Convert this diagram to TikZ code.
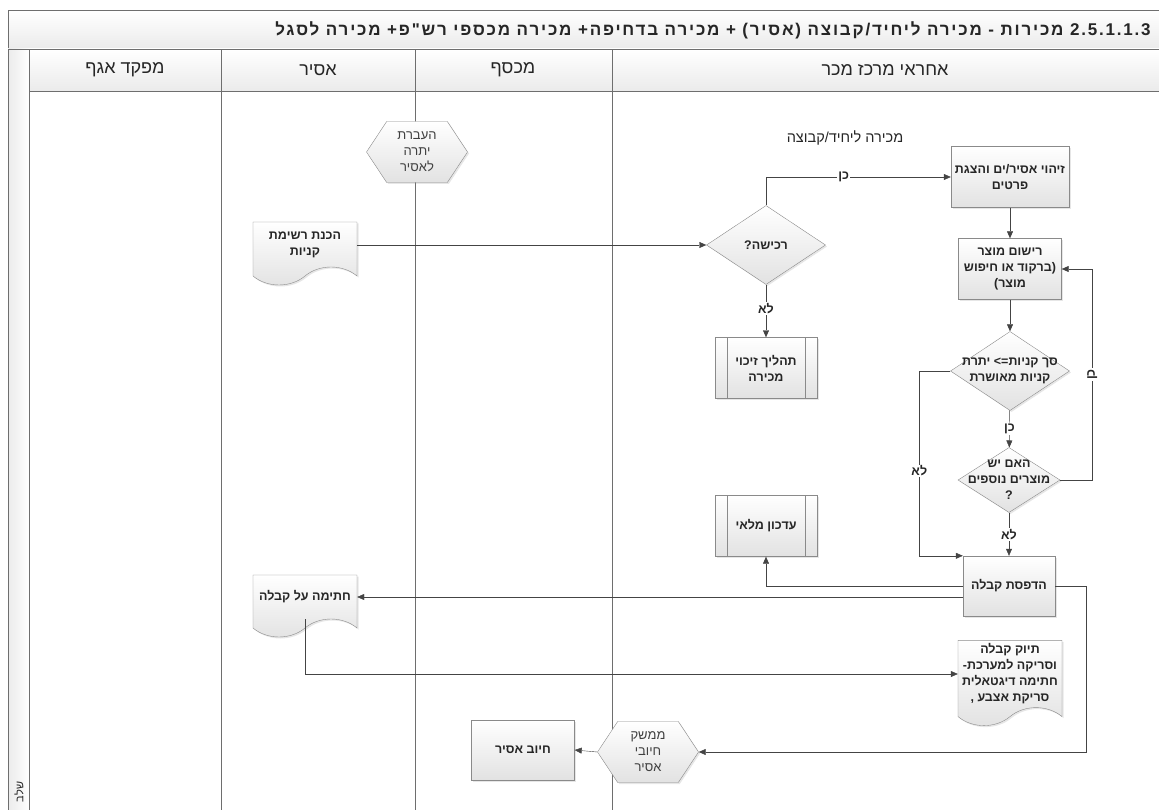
\documentclass[tikz,border=0pt]{standalone}
\usepackage{fontspec}
\setmainfont{Liberation Sans}
\newfontfamily\hebfont[Script=Hebrew]{Liberation Sans}
\newfontfamily\titlefont[Script=Hebrew,LetterSpace=10.5]{Liberation Sans}
\TeXXeTstate=1
\usetikzlibrary{shapes.geometric,shapes.symbols,arrows.meta,shadows}
\definecolor{framegray}{HTML}{6E6E6E}
\definecolor{nodegray}{HTML}{8A8A8A}
\definecolor{linegray}{HTML}{444444}
\definecolor{shadegray}{HTML}{E2E2E2}
\newcommand{\heb}[1]{\beginR#1\endR}

\begin{document}
\begin{tikzpicture}
  [x=1pt,y=-1pt,
   every node/.style={font=\hebfont\bfseries\fontsize{12.5}{16}\selectfont,align=center,text=black!85},
   shaded/.style={draw=nodegray,top color=white,bottom color=shadegray,
     drop shadow={opacity=.2,shadow xshift=1.5pt,shadow yshift=-1.5pt}},
   box/.style={shaded,rectangle,minimum width=#1,minimum height=61pt,inner sep=1pt},
   predef/.style={box=102pt,path picture={
     \draw[nodegray] ([xshift=12pt]path picture bounding box.north west) -- ([xshift=12pt]path picture bounding box.south west);
     \draw[nodegray] ([xshift=-12pt]path picture bounding box.north east) -- ([xshift=-12pt]path picture bounding box.south east);}},
   decision/.style={shaded,diamond,inner sep=0pt,minimum width=#1,minimum height=79pt},
   hexa/.style={shaded,signal,signal to=east and west,signal pointer angle=113,
     minimum width=101pt,minimum height=61pt,inner sep=0pt,
     font=\hebfont\fontsize{13}{16}\selectfont,text=black!75},
   docu/.style={shaded,tape,tape bend top=none,tape bend bottom=in and out,
     tape bend height=18pt,minimum width=104pt,minimum height=#1},
   flow/.style={draw=linegray,-{Triangle[length=7pt,width=6pt]}},
   lbl/.style={fill=white,inner sep=1pt,font=\hebfont\bfseries\fontsize{12.5}{15}\selectfont},
   lane/.style={draw=framegray,top color=white,bottom color=shadegray!70},
   head/.style={font=\hebfont\fontsize{18}{20}\selectfont}]
  \useasboundingbox (0,0) rectangle (1159,810);

  \draw[lane] (8,10) rectangle (1175,49);
  \foreach \a/\b in {29/221,221/415,415/612,612/1175}
    \draw[lane] (\a,49) rectangle (\b,91);
  \draw[framegray,left color=shadegray!70,right color=white] (8,49) rectangle (29,815);
  \foreach \a in {221,415,612}
    \draw[framegray] (\a,91) -- (\a,815);

  \node[anchor=east,font=\titlefont\bfseries\fontsize{17}{20}\selectfont] (title) at (1154,30)
    {\heb{\beginL2.5.1.1.3\endL{} מכירות - מכירה ליחיד/קבוצה (אסיר) + מכירה בדחיפה+ מכירה מכספי רש"פ+ מכירה לסגל}};
  \node[head] (agaf) at (125,70) {\heb{מפקד אגף}};
  \node[head] (asir) at (318,70) {\heb{אסיר}};
  \node[head] (mikhsaf) at (513,70) {\heb{מכסף}};
  \node[head] (merkaz) at (885,70) {\heb{אחראי מרכז מכר}};
  \node[rotate=90,font=\hebfont\fontsize{11}{12}\selectfont] (phase) at (19,792) {\heb{שלב}};

  \node[hexa] (hex1) at (417,152) {\heb{העברת}\\\heb{יתרה}\\\heb{לאסיר}};
  \node[docu=63pt] (doc1) at (305,244.5) {\heb{הכנת רשימת}\\\heb{קניות}};
  \node[decision=119pt,label=center:{\beginR רכישה?\endR}] (d1) at (766,245) {};
  \node[font=\hebfont\fontsize{14.5}{16}\selectfont] (sale) at (845,138) {\heb{מכירה ליחיד/קבוצה}};
  \node[box=118pt] (b1) at (1010,177) {\heb{זיהוי אסיר/ים והצגת}\\\heb{פרטים}};
  \node[box=103pt] (b2) at (1010,269) {\heb{רישום מוצר}\\\heb{(ברקוד או חיפוש}\\\heb{מוצר)}};
  \node[decision=119pt,label=center:{\beginR סך קניות=> יתרת\endR\\\beginR קניות מאושרת\endR}] (d2) at (1010,371) {};
  \node[decision=102pt,minimum height=65pt,label=center:{\beginR האם יש\endR\\\beginR מוצרים נוספים\endR\\?}] (d3) at (1009,480) {};
  \node[predef] (pp1) at (766,368) {\heb{תהליך זיכוי}\\\heb{מכירה}};
  \node[predef] (pp2) at (766,526) {\heb{עדכון מלאי}};
  \node[box=92pt,minimum height=60pt] (b3) at (1009,586) {\heb{הדפסת קבלה}};
  \node[docu=62pt] (doc2) at (305,597) {\heb{חתימה על קבלה}};
  \node[docu=82pt] (doc3) at (1010,674)
    {\heb{תיוק קבלה}\\\heb{וסריקה למערכת-}\\\heb{חתימה דיגטאלית}\\\heb{סריקת אצבע ,}};
  \node[hexa] (hex2) at (648,752) {\heb{ממשק}\\\heb{חיובי}\\\heb{אסיר}};
  \node[box=103pt,minimum height=60pt] (b4) at (523,750) {\heb{חיוב אסיר}};

  \draw[flow] (doc1.east |- d1.west) -- (d1.west);
  \draw[flow] (d1.north) |- node[lbl,pos=.71]{\heb{כן}} (b1.west);
  \draw[flow] (d1.south) -- node[lbl,pos=.45]{\heb{לא}} (pp1.north);
  \draw[flow] (b1) -- (b2);
  \draw[flow] (b2) -- (d2);
  \draw[flow] (d2) -- node[lbl]{\heb{כן}} (d3);
  \draw[flow] (d3.east) -- ++(32,0) |- node[lbl,rotate=90,pos=.25]{\heb{כן}} (b2.east);
  \draw[flow] (d2.west) -- ++(-31,0) |- node[lbl,pos=.27]{\heb{לא}} (b3.north west);
  \draw[flow] (d3) -- node[lbl]{\heb{לא}} (b3);
  \draw[flow] (b3.west) -| (pp2.south);
  \draw[flow] (doc2.east -| b3.west) -- (doc2.east);
  \draw[flow] (doc2.south) |- (doc3.west);
  \draw[flow] (b3.east) -- ++(31,0) |- (hex2.east);
  \draw[flow] (hex2.west) -- (b4.east);
\end{tikzpicture}
\end{document}
